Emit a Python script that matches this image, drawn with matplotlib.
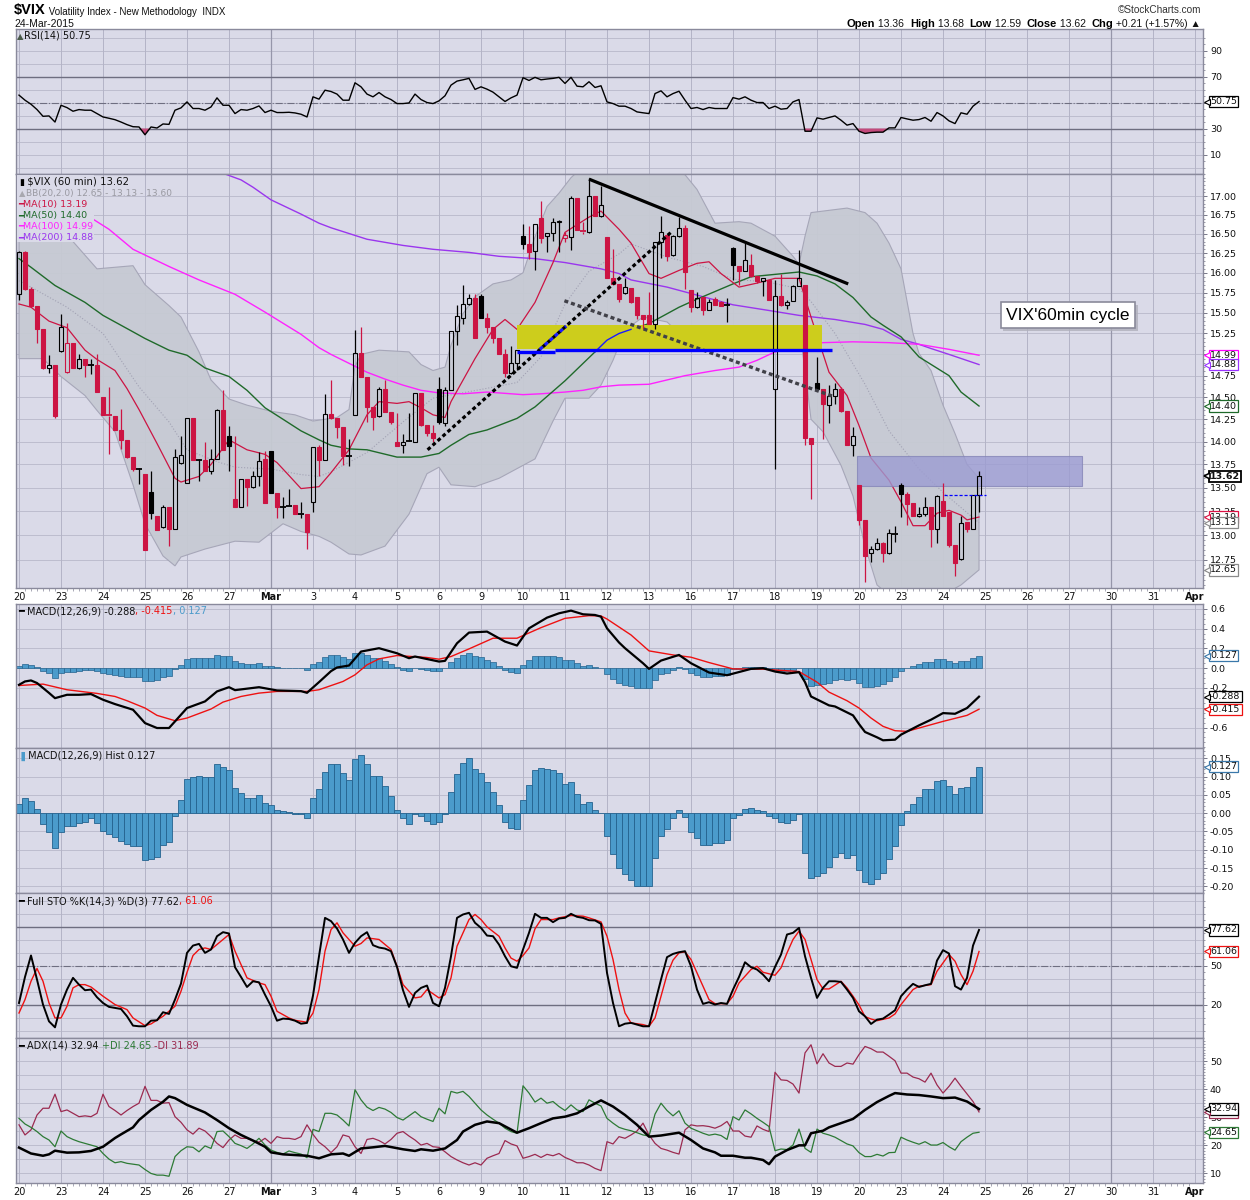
import numpy as np
import matplotlib
matplotlib.use("Agg")
import matplotlib.pyplot as plt
from matplotlib.patches import Rectangle
from matplotlib.ticker import NullLocator, NullFormatter, FixedLocator
import matplotlib.transforms as mtransforms
import matplotlib.patheffects as pe

plt.rcParams['font.family'] = ['DejaVu Sans']

# ---------------- data (60 min bars, Feb 20 - Mar 24 2015) ----------------
day_labels = ['20', '23', '24', '25', '26', '27', 'Mar', '3', '4', '5', '6', '9', '10',
              '11', '12', '13', '16', '17', '18', '19', '20', '23', '24', '25', '26',
              '27', '30', '31', 'Apr']

opens = [15.73, 16.27, 15.80, 15.59, 15.30, 14.84, 14.87, 15.04, 14.79, 15.14,
         14.84, 14.95, 14.87, 14.88, 14.50, 14.30, 14.29, 14.13, 14.02, 13.83,
         13.70, 13.65, 13.45, 13.20, 13.09, 13.30, 13.07, 13.77, 13.55, 14.26,
         13.80, 13.80, 13.68, 13.81, 14.36, 14.06, 13.38, 13.30, 13.59, 13.51,
         13.63, 13.81, 13.90, 13.44, 13.29, 13.30, 13.32, 13.22, 13.22, 13.35,
         13.94, 13.80, 14.31, 14.26, 14.16, 13.84, 14.30, 15.02, 14.74, 14.39,
         14.29, 14.60, 14.33, 14.00, 13.96, 14.00, 14.00, 14.55, 14.19, 14.10,
         14.60, 14.21, 14.58, 15.28, 15.44, 15.61, 15.68, 15.71, 15.44, 15.33,
         15.19, 15.01, 14.78, 14.90, 16.47, 16.37, 16.28, 16.71, 16.47, 16.51,
         16.65, 16.44, 16.46, 16.97, 16.55, 16.53, 17.00, 16.73, 16.46, 15.94,
         15.86, 15.75, 15.81, 15.70, 15.48, 15.48, 15.37, 16.40, 16.48, 16.23,
         16.47, 16.58, 15.78, 15.57, 15.70, 15.53, 15.67, 15.63, 15.60, 16.32,
         16.09, 16.02, 16.10, 15.96, 15.90, 15.91, 14.60, 15.71, 15.60, 15.65,
         15.83, 15.85, 14.04, 14.67, 14.60, 14.41, 14.51, 14.60, 14.34, 13.96,
         13.53, 13.16, 12.82, 12.86, 12.92, 12.82, 13.01, 13.53, 13.43, 13.34,
         13.20, 13.22, 13.30, 13.07, 13.36, 13.24, 12.90, 12.76, 13.14, 13.07,
         13.42]
highs = [16.28, 16.28, 15.82, 15.59, 15.30, 14.99, 14.87, 15.49, 15.38, 15.14,
         15.01, 14.95, 14.94, 15.01, 14.50, 14.62, 14.29, 14.37, 14.02, 13.83,
         13.71, 13.65, 13.68, 13.20, 13.32, 13.30, 13.92, 14.06, 14.26, 14.26,
         13.81, 14.00, 13.92, 14.37, 14.58, 14.17, 14.06, 13.59, 13.59, 13.68,
         13.89, 13.90, 13.90, 13.44, 13.40, 13.49, 13.32, 13.35, 13.22, 13.94,
         13.96, 14.54, 14.70, 14.26, 14.16, 14.03, 15.29, 15.33, 14.74, 14.39,
         14.62, 14.70, 14.33, 14.32, 14.08, 14.32, 14.55, 14.55, 14.19, 14.19,
         14.74, 14.62, 15.28, 15.60, 15.84, 15.74, 15.74, 15.74, 15.50, 15.33,
         15.19, 15.07, 15.10, 15.05, 16.63, 16.60, 16.63, 16.93, 16.51, 16.71,
         16.68, 16.52, 17.00, 16.97, 16.65, 17.24, 17.00, 17.13, 16.46, 16.30,
         15.86, 15.93, 15.81, 15.70, 15.48, 15.76, 16.40, 16.74, 16.48, 16.48,
         16.72, 16.61, 15.78, 15.76, 15.70, 15.67, 15.70, 15.65, 15.69, 16.33,
         16.09, 16.38, 16.24, 15.96, 15.93, 15.91, 15.91, 15.99, 15.66, 15.84,
         16.29, 15.85, 14.04, 14.97, 14.60, 14.64, 14.66, 14.62, 14.34, 14.16,
         13.53, 13.16, 12.89, 12.97, 12.93, 13.07, 13.10, 13.55, 13.45, 13.34,
         13.29, 13.40, 13.30, 13.42, 13.55, 13.24, 12.90, 13.20, 13.14, 13.42,
         13.68]
lows = [15.66, 15.78, 15.57, 15.13, 14.83, 14.78, 14.26, 15.03, 14.78, 14.84,
        14.83, 14.73, 14.77, 14.56, 14.30, 13.86, 14.13, 13.92, 13.82, 13.68,
        13.54, 12.85, 13.17, 13.06, 13.08, 12.89, 13.07, 13.76, 13.55, 13.80,
        13.57, 13.68, 13.65, 13.81, 13.91, 13.68, 13.29, 13.30, 13.31, 13.50,
        13.52, 13.34, 13.44, 13.18, 13.18, 13.30, 13.22, 13.18, 12.86, 13.24,
        13.62, 13.80, 14.25, 14.04, 13.74, 13.73, 14.30, 14.74, 14.22, 14.13,
        14.28, 14.33, 14.20, 13.95, 13.88, 14.00, 14.00, 14.17, 14.06, 14.00,
        14.20, 14.17, 14.58, 15.11, 15.36, 15.60, 15.19, 15.44, 15.25, 15.13,
        15.00, 14.73, 14.77, 14.82, 16.31, 16.18, 16.04, 16.38, 16.26, 16.41,
        16.26, 16.40, 16.29, 16.55, 16.50, 16.51, 16.73, 16.72, 15.94, 15.86,
        15.63, 15.74, 15.62, 15.42, 15.30, 15.37, 15.31, 16.19, 16.15, 16.22,
        16.46, 15.80, 15.51, 15.56, 15.47, 15.53, 15.60, 15.58, 15.39, 15.91,
        15.84, 16.02, 15.95, 15.87, 15.71, 15.66, 13.70, 15.59, 15.55, 15.65,
        15.83, 13.96, 13.38, 14.60, 14.03, 14.21, 14.42, 14.33, 13.96, 13.84,
        13.11, 12.53, 12.73, 12.85, 12.73, 12.81, 12.93, 13.19, 13.11, 13.20,
        13.19, 13.20, 12.88, 12.92, 13.20, 12.88, 12.59, 12.75, 13.03, 13.07,
        13.24]
closes = [16.27, 15.80, 15.59, 15.30, 14.84, 14.87, 14.29, 15.33, 15.14, 14.84,
          14.95, 14.87, 14.88, 14.56, 14.30, 14.29, 14.13, 14.02, 13.83, 13.70,
          13.70, 12.85, 13.23, 13.06, 13.30, 13.07, 13.83, 13.85, 14.26, 13.80,
          13.80, 13.68, 13.81, 14.36, 13.91, 13.95, 13.29, 13.59, 13.51, 13.62,
          13.79, 13.34, 13.44, 13.29, 13.30, 13.32, 13.22, 13.23, 13.03, 13.94,
          13.80, 14.31, 14.26, 14.16, 13.84, 13.85, 15.02, 14.74, 14.39, 14.28,
          14.60, 14.33, 14.22, 13.95, 14.00, 14.01, 14.55, 14.19, 14.10, 14.04,
          14.22, 14.58, 15.28, 15.46, 15.61, 15.68, 15.19, 15.44, 15.33, 15.19,
          15.01, 14.78, 14.90, 15.05, 16.37, 16.26, 16.63, 16.44, 16.51, 16.65,
          16.67, 16.49, 16.97, 16.55, 16.53, 17.00, 16.73, 16.88, 15.94, 15.86,
          15.67, 15.82, 15.64, 15.47, 15.42, 15.37, 16.40, 16.52, 16.21, 16.47,
          16.58, 16.01, 15.57, 15.68, 15.53, 15.64, 15.60, 15.59, 15.60, 16.10,
          16.02, 16.16, 15.96, 15.90, 15.93, 15.66, 15.71, 15.60, 15.64, 15.83,
          15.93, 14.04, 13.97, 14.60, 14.42, 14.51, 14.60, 14.34, 13.96, 14.06,
          13.16, 12.79, 12.86, 12.92, 12.82, 13.02, 13.02, 13.43, 13.33, 13.20,
          13.22, 13.29, 13.07, 13.41, 13.20, 12.90, 12.72, 13.13, 13.07, 13.42,
          13.62]

# Bollinger bands and moving averages, read at selected bars
bb_up_idx = [0, 5, 9, 13, 19, 21, 25, 27, 30, 32, 35, 38, 42, 46, 49, 53, 55, 56, 57, 60,
             65, 67, 69, 71, 72, 74, 76, 79, 82, 84, 86, 88, 90, 92, 94, 102, 108, 111, 113, 116,
             120, 122, 126, 129, 130, 131, 132, 136, 138, 141, 143, 145, 147, 149, 150, 152, 154,
             156, 158, 160]
bb_up = [16.55, 16.45, 16.40, 16.05, 16.09, 15.85, 15.59, 15.45, 15.03, 14.70, 14.48, 14.41,
         14.34, 14.30, 14.23, 14.27, 14.36, 14.86, 15.00, 15.05, 15.03, 14.88, 14.81, 14.85,
         15.11, 15.49, 15.70, 15.86, 15.91, 16.00, 16.46, 16.86, 17.04, 17.25, 17.40, 17.45,
         17.40, 17.29, 17.09, 16.64, 16.66, 16.64, 16.47, 16.21, 16.11, 16.47, 16.78, 16.82,
         16.84, 16.78, 16.64, 16.38, 16.05, 15.25, 15.01, 14.81, 14.41, 14.09, 13.75, 13.60]
bb_lo_idx = [0, 4, 7, 11, 13, 16, 19, 21, 24, 26, 27, 31, 36, 40, 44, 47, 50, 52, 55, 57,
             61, 65, 68, 70, 72, 76, 80, 86, 89, 91, 95, 97, 99, 101, 104, 108, 112, 117, 120, 125,
             130, 131, 132, 134, 137, 139, 141, 143, 146, 150, 154, 157, 160]
bb_lo = [14.95, 14.95, 14.74, 14.52, 14.35, 14.11, 13.53, 13.12, 12.79, 12.69, 12.78, 12.86,
         12.94, 12.93, 13.12, 13.04, 12.99, 12.93, 12.81, 12.80, 12.89, 13.22, 13.65, 13.72,
         13.53, 13.51, 13.60, 13.81, 14.23, 14.49, 14.49, 14.64, 14.93, 15.29, 15.45, 15.39,
         15.12, 15.33, 15.20, 15.29, 15.33, 14.82, 14.25, 14.11, 13.74, 13.41, 12.89, 12.50,
         12.35, 12.30, 12.40, 12.50, 12.65]
bb_mid_idx = [0, 2, 8, 14, 20, 25, 28, 33, 36, 42, 47, 50, 52, 58, 64, 69, 77, 83, 87, 91,
              95, 100, 102, 108, 114, 119, 125, 130, 132, 136, 141, 145, 147, 150, 154, 160]
bb_mid = [15.90, 15.82, 15.57, 15.25, 14.62, 14.22, 13.91, 13.78, 13.72, 13.70, 13.64, 13.62,
          13.67, 13.88, 14.22, 14.49, 14.59, 14.67, 14.97, 15.61, 16.02, 16.24, 16.37, 16.20,
          16.08, 15.92, 15.88, 15.80, 15.64, 15.25, 14.65, 14.12, 13.95, 13.70, 13.45, 13.13]

ma10_idx = [0, 2, 5, 8, 11, 13, 16, 18, 20, 23, 26, 27, 30, 32, 35, 38, 41, 43, 45, 47,
            50, 52, 55, 58, 60, 63, 65, 67, 69, 71, 72, 76, 79, 81, 83, 86, 89, 91, 95, 97,
            100, 102, 105, 107, 110, 113, 115, 117, 120, 123, 126, 130, 132, 135, 138, 140,
            142, 145, 147, 149, 151, 153, 155, 157, 158, 160]
ma10 = [15.61, 15.57, 15.40, 15.32, 15.05, 14.94, 14.81, 14.60, 14.36, 13.98, 13.60, 13.56,
        13.62, 13.75, 14.02, 13.91, 13.86, 13.77, 13.63, 13.49, 13.51, 13.66, 13.91, 14.30,
        14.45, 14.43, 14.45, 14.38, 14.30, 14.27, 14.45, 14.95, 15.30, 15.42, 15.30, 15.63,
        16.13, 16.52, 16.72, 16.80, 16.56, 16.38, 15.99, 15.93, 16.03, 16.12, 16.14, 15.99,
        15.82, 15.87, 15.93, 15.93, 15.45, 14.79, 14.52, 14.18, 13.82, 13.58, 13.35, 13.10,
        13.10, 13.23, 13.26, 13.21, 13.16, 13.19]
ma50_idx = [0, 2, 6, 11, 14, 19, 21, 25, 28, 31, 35, 38, 41, 44, 47, 50, 52, 55, 58, 63,
            67, 70, 72, 75, 78, 83, 86, 91, 96, 98, 100, 102, 105, 110, 113, 119, 122, 126,
            130, 133, 136, 139, 142, 144, 147, 150, 155, 157, 160]
ma50 = [16.18, 16.07, 15.84, 15.63, 15.47, 15.27, 15.19, 15.05, 14.99, 14.84, 14.74, 14.58,
        14.38, 14.25, 14.12, 14.02, 13.96, 13.92, 13.91, 13.83, 13.83, 13.87, 13.96, 14.08,
        14.13, 14.26, 14.39, 14.69, 15.03, 15.17, 15.25, 15.30, 15.37, 15.57, 15.67, 15.86,
        15.95, 15.98, 16.01, 15.96, 15.86, 15.69, 15.45, 15.35, 15.21, 14.97, 14.75, 14.56,
        14.40]
ma100_idx = [0, 6, 12, 15, 19, 25, 30, 36, 41, 47, 50, 52, 56, 58, 61, 64, 67, 70, 74, 78,
             84, 87, 91, 94, 97, 100, 105, 111, 116, 120, 123, 126, 130, 134, 139, 145, 150,
             155, 160]
ma100 = [17.20, 16.95, 16.71, 16.56, 16.30, 16.08, 15.91, 15.73, 15.51, 15.24, 15.08, 15.00,
         14.86, 14.79, 14.71, 14.64, 14.58, 14.55, 14.54, 14.56, 14.53, 14.54, 14.56, 14.58,
         14.62, 14.64, 14.65, 14.75, 14.81, 14.85, 14.93, 15.03, 15.11, 15.14, 15.15, 15.14,
         15.12, 15.06, 14.99]
ma200_idx = [0, 20, 34, 37, 39, 42, 47, 50, 52, 58, 64, 69, 75, 80, 86, 91, 97, 100, 102,
             108, 114, 119, 125, 130, 136, 141, 144, 147, 150, 152, 155, 160]
ma200 = [18.40, 17.80, 17.31, 17.22, 17.12, 16.95, 16.76, 16.64, 16.58, 16.43, 16.35, 16.30,
         16.26, 16.21, 16.18, 16.13, 16.05, 15.99, 15.91, 15.82, 15.70, 15.60, 15.53, 15.47,
         15.42, 15.36, 15.30, 15.18, 15.12, 15.07, 15.00, 14.88]

rsi = [55.7, 51.8, 48.7, 44.6, 39.4, 39.7, 35.0, 47.9, 46.1, 43.3,
       44.6, 44.1, 44.1, 41.5, 38.9, 37.9, 36.8, 35.0, 33.0, 31.4,
       31.2, 25.2, 31.2, 30.4, 33.5, 33.2, 44.1, 45.9, 50.5, 45.4,
       45.4, 44.1, 46.6, 53.6, 47.9, 47.9, 41.5, 44.6, 44.1, 45.4,
       47.4, 42.3, 44.1, 42.3, 42.3, 42.5, 42.0, 41.0, 38.9, 54.4,
       52.6, 59.5, 58.5, 56.5, 51.8, 51.8, 65.2, 62.1, 56.5, 54.4,
       57.7, 54.4, 52.3, 49.2, 49.2, 49.7, 56.5, 52.3, 50.0, 49.2,
       51.3, 55.2, 63.4, 66.5, 67.5, 68.6, 60.1, 62.1, 60.3, 58.0,
       54.4, 50.8, 53.6, 55.7, 69.1, 67.0, 69.4, 67.5, 68.1, 68.6,
       69.4, 64.7, 69.4, 62.6, 62.1, 66.0, 61.6, 62.9, 50.5, 49.2,
       47.2, 47.2, 45.4, 42.8, 42.1, 41.5, 56.9, 59.0, 54.4, 56.9,
       58.7, 51.8, 45.4, 46.2, 44.6, 46.2, 45.4, 45.4, 45.4, 53.8,
       52.6, 54.4, 51.8, 50.0, 50.0, 45.4, 47.2, 44.9, 45.4, 50.5,
       52.3, 27.9, 27.9, 38.2, 37.2, 38.5, 39.7, 36.4, 32.6, 33.8,
       27.9, 26.2, 26.9, 27.2, 27.2, 30.5, 30.5, 38.5, 37.4, 36.4,
       36.9, 38.5, 35.6, 42.3, 39.7, 35.9, 33.8, 42.1, 41.0, 47.2,
       50.75]

macd_idx = [0, 1, 2, 3, 5, 6, 8, 10, 12, 14, 16, 19, 20, 21, 23, 25, 26, 28, 31, 33,
            35, 36, 40, 43, 47, 48, 50, 52, 53, 55, 57, 60, 63, 65, 66, 70, 71, 73, 75, 78,
            81, 83, 85, 88, 90, 92, 94, 96, 97, 98, 100, 101, 104, 105, 107, 110, 112, 115,
            118, 122, 124, 126, 128, 130, 131, 132, 135, 136, 139, 140, 141, 143, 144, 146,
            147, 150, 152, 154, 156, 158, 160]
macd = [-0.168, -0.134, -0.124, -0.150, -0.250, -0.303, -0.269, -0.269, -0.262, -0.319,
        -0.363, -0.420, -0.487, -0.555, -0.605, -0.605, -0.538, -0.403, -0.336, -0.235,
        -0.192, -0.222, -0.192, -0.225, -0.232, -0.249, -0.141, -0.030, 0.007, 0.027,
        0.168, 0.202, 0.151, 0.101, 0.118, 0.067, 0.074, 0.252, 0.360, 0.370,
        0.269, 0.229, 0.403, 0.511, 0.555, 0.582, 0.545, 0.538, 0.521, 0.403,
        0.260, 0.202, 0.050, -0.007, 0.077, 0.134, 0.050, -0.044, -0.071, -0.007,
        0.000, -0.034, -0.054, -0.040, -0.141, -0.286, -0.376, -0.387, -0.477, -0.565,
        -0.645, -0.699, -0.729, -0.723, -0.672, -0.578, -0.521, -0.454, -0.461, -0.403,
        -0.288]
signal_idx = [0, 4, 8, 13, 16, 18, 21, 23, 26, 28, 32, 34, 37, 40, 43, 48, 50, 54, 56, 58,
              60, 63, 68, 70, 72, 75, 79, 83, 87, 91, 95, 97, 98, 102, 105, 109, 112, 115,
              119, 124, 130, 133, 135, 138, 140, 142, 144, 146, 148, 150, 154, 158, 160]
signal = [-0.175, -0.161, -0.218, -0.255, -0.286, -0.329, -0.403, -0.477, -0.531, -0.504,
          -0.413, -0.343, -0.286, -0.252, -0.235, -0.235, -0.218, -0.134, -0.067, 0.034,
          0.094, 0.128, 0.108, 0.091, 0.118, 0.195, 0.303, 0.303, 0.410, 0.504,
          0.531, 0.528, 0.497, 0.336, 0.175, 0.134, 0.111, 0.057, -0.007, -0.010,
          -0.034, -0.141, -0.242, -0.329, -0.403, -0.504, -0.588, -0.632, -0.639, -0.605,
          -0.538, -0.477, -0.415]
hist = [0.025, 0.041, 0.032, 0.011, -0.030, -0.052, -0.096, -0.052, -0.034, -0.035,
        -0.026, -0.023, -0.014, -0.027, -0.050, -0.058, -0.066, -0.076, -0.085, -0.089,
        -0.089, -0.128, -0.125, -0.119, -0.087, -0.078, -0.007, 0.035, 0.093, 0.099,
        0.101, 0.098, 0.099, 0.134, 0.125, 0.119, 0.069, 0.055, 0.041, 0.041,
        0.049, 0.027, 0.023, 0.008, 0.005, 0.002, -0.002, -0.003, -0.014, 0.041,
        0.066, 0.112, 0.134, 0.134, 0.110, 0.090, 0.149, 0.158, 0.134, 0.102,
        0.101, 0.074, 0.047, 0.008, -0.014, -0.030, -0.002, -0.009, -0.020, -0.030,
        -0.025, -0.002, 0.059, 0.107, 0.137, 0.151, 0.122, 0.110, 0.085, 0.058,
        0.023, -0.023, -0.041, -0.044, 0.036, 0.078, 0.119, 0.123, 0.122, 0.119,
        0.110, 0.080, 0.085, 0.052, 0.026, 0.030, 0.008, 0.000, -0.062, -0.112,
        -0.151, -0.166, -0.183, -0.198, -0.198, -0.198, -0.123, -0.061, -0.044, -0.014,
        0.009, -0.011, -0.052, -0.069, -0.087, -0.087, -0.082, -0.082, -0.073, -0.012,
        -0.005, 0.011, 0.014, 0.008, 0.007, -0.009, -0.014, -0.025, -0.027, -0.018,
        -0.002, -0.110, -0.176, -0.172, -0.163, -0.146, -0.119, -0.110, -0.122, -0.114,
        -0.154, -0.189, -0.194, -0.181, -0.163, -0.126, -0.091, -0.032, 0.005, 0.026,
        0.045, 0.067, 0.066, 0.089, 0.090, 0.073, 0.052, 0.069, 0.071, 0.099,
        0.127]

sto_k = [21.5, 41.5, 58.0, 39.5, 20.3, 7.4, 2.8, 20.3, 31.8, 40.8,
         35.6, 31.3, 31.8, 25.9, 21.5, 18.5, 17.7, 16.9, 11.3, 4.1,
         3.6, 3.6, 7.9, 8.2, 14.4, 13.1, 24.1, 36.4, 60.0, 65.6,
         66.9, 60.0, 62.6, 72.8, 75.9, 74.9, 49.0, 41.5, 33.8, 38.2,
         37.4, 27.9, 19.0, 7.9, 9.5, 9.2, 7.9, 5.6, 6.2, 27.2,
         57.4, 86.9, 84.4, 78.7, 70.3, 60.0, 67.7, 72.8, 75.9, 65.9,
         64.1, 63.3, 61.3, 49.2, 31.3, 18.5, 29.2, 33.1, 34.9, 21.5,
         19.0, 33.1, 57.4, 86.9, 89.5, 90.8, 83.1, 79.2, 73.3, 72.8,
         66.4, 57.4, 49.7, 48.5, 62.6, 75.4, 90.0, 86.9, 86.9, 83.6,
         86.4, 86.9, 90.0, 87.7, 86.9, 85.1, 84.9, 82.3, 44.6, 21.5,
         3.6, 5.6, 6.2, 4.9, 3.6, 3.6, 21.5, 39.5, 56.7, 59.2,
         60.5, 61.3, 49.7, 31.8, 20.8, 22.1, 20.3, 21.5, 20.8, 31.8,
         41.5, 52.8, 49.0, 47.2, 43.3, 38.2, 49.2, 58.7, 74.1, 75.4,
         79.2, 57.4, 40.8, 25.4, 33.1, 38.2, 38.2, 37.7, 31.8, 25.4,
         15.1, 11.3, 5.4, 8.7, 9.5, 12.6, 15.9, 26.7, 31.8, 36.2,
         33.8, 35.1, 36.2, 54.1, 62.1, 59.5, 34.4, 31.8, 40.8, 65.6,
         77.62]
sto_d_idx = [0, 1, 2, 3, 4, 5, 6, 7, 8, 9, 10, 11, 12, 14, 16, 18, 19, 21, 22, 24,
             26, 27, 28, 29, 30, 31, 32, 33, 35, 36, 37, 38, 40, 41, 42, 43, 45, 46, 48, 49,
             50, 51, 52, 53, 54, 56, 57, 58, 60, 61, 62, 63, 64, 66, 67, 68, 70, 71, 72, 73,
             75, 76, 77, 78, 80, 81, 82, 83, 84, 85, 86, 87, 89, 90, 92, 94, 95, 97, 98, 99,
             100, 101, 102, 104, 105, 106, 107, 108, 109, 110, 111, 112, 114, 115, 116, 118,
             119, 120, 122, 123, 124, 126, 127, 128, 129, 130, 131, 132, 133, 134, 135, 137,
             138, 139, 140, 141, 142, 143, 145, 146, 147, 149, 150, 152, 153, 154, 155, 156,
             157, 158, 159, 160]
sto_d = [13.8, 24.1, 38.2, 48.0, 38.2, 21.5, 10.0, 10.0, 19.0, 33.1, 35.6, 35.6, 33.8, 26.7,
         20.3, 16.4, 10.0, 4.1, 5.4, 11.3, 19.0, 30.5, 45.0, 58.0, 62.6, 63.8, 62.6, 66.4,
         74.1, 61.3, 51.0, 40.8, 36.9, 35.6, 26.7, 15.1, 10.0, 8.2, 6.7, 13.8, 31.8, 61.3,
         77.9, 83.1, 75.4, 65.1, 67.2, 71.5, 70.3, 66.4, 62.6, 49.7, 35.6, 25.4, 26.2, 31.8,
         25.4, 27.9, 40.8, 65.1, 85.6, 89.5, 85.6, 80.0, 72.8, 63.8, 56.0, 53.6, 58.0, 63.8,
         78.5, 85.6, 85.6, 86.9, 88.7, 88.2, 86.9, 83.8, 72.8, 54.9, 31.8, 13.8, 6.2, 4.9,
         3.6, 10.0, 26.7, 43.3, 54.4, 60.0, 60.8, 54.9, 34.4, 24.1, 21.0, 21.0, 26.7, 36.9,
         47.2, 49.7, 45.1, 42.8, 48.5, 60.0, 70.3, 76.7, 70.3, 54.9, 39.5, 32.3, 32.3, 38.2,
         33.1, 26.7, 20.0, 11.0, 9.2, 7.9, 10.0, 13.1, 20.3, 31.8, 34.4, 35.6, 45.9, 52.3,
         58.7, 53.6, 43.3, 35.6, 45.9, 61.06]

adx_idx = [0, 2, 4, 5, 6, 8, 10, 12, 14, 16, 17, 19, 20, 22, 24, 25, 26, 28, 31, 33,
           35, 37, 39, 41, 42, 44, 48, 50, 52, 54, 55, 57, 59, 61, 64, 66, 67, 69, 71, 73,
           74, 76, 78, 80, 83, 85, 87, 89, 91, 93, 95, 97, 99, 101, 103, 105, 107, 110, 112,
           114, 116, 117, 119, 121, 122, 124, 125, 126, 128, 130, 131, 132, 134, 135, 137,
           139, 141, 143, 145, 146, 148, 150, 152, 154, 156, 158, 160]
adx = [19.2, 17.1, 16.3, 16.8, 18.1, 17.4, 17.5, 18.0, 19.5, 22.6, 23.9, 26.4, 29.0, 32.6,
       35.5, 37.4, 36.8, 34.4, 31.7, 29.0, 26.1, 23.7, 21.7, 19.5, 17.5, 16.8, 16.3, 15.4,
       16.8, 17.1, 16.3, 18.9, 19.3, 19.8, 18.6, 18.0, 18.6, 18.1, 18.9, 21.9, 24.9, 27.3,
       28.5, 27.9, 24.5, 26.1, 27.9, 29.6, 30.2, 31.4, 33.8, 36.0, 33.8, 30.8, 27.3, 23.1,
       23.5, 24.5, 21.9, 18.9, 17.5, 16.3, 16.3, 15.6, 15.6, 14.8, 13.3, 16.0, 18.3, 20.0,
       20.0, 24.3, 25.2, 26.4, 27.9, 29.4, 32.6, 35.4, 37.6, 38.6, 38.1, 37.9, 37.4, 36.8,
       37.0, 35.6, 32.94]
plus_di = [29.6, 27.6, 26.4, 24.9, 23.1, 21.9, 19.5, 25.1, 23.1, 22.1,
           21.3, 20.7, 20.1, 19.5, 17.1, 15.1, 13.8, 14.2, 13.6, 13.3,
           13.0, 11.4, 10.0, 9.4, 9.4, 9.0, 16.0, 18.1, 19.5, 19.3,
           17.7, 19.8, 18.9, 24.9, 25.1, 23.1, 20.7, 19.9, 18.9, 20.5,
           22.5, 20.1, 18.3, 17.5, 16.9, 18.0, 17.4, 16.9, 15.6, 25.7,
           24.9, 31.4, 31.4, 30.8, 29.0, 26.9, 39.8, 36.2, 33.6, 32.4,
           33.5, 32.9, 31.7, 29.9, 29.0, 30.5, 32.0, 30.2, 29.3, 28.5,
           33.2, 31.2, 39.2, 38.6, 39.2, 37.4, 35.0, 32.6, 30.8, 29.3,
           27.9, 26.1, 24.9, 24.3, 41.2, 38.6, 35.4, 36.8, 35.0, 35.6,
           33.8, 32.4, 34.4, 32.6, 32.0, 36.2, 35.0, 34.0, 29.6, 27.9,
           26.4, 25.7, 25.2, 24.5, 23.7, 23.3, 31.1, 35.0, 32.4, 30.5,
           32.3, 27.9, 26.1, 25.2, 24.3, 23.6, 24.0, 23.5, 22.1, 30.2,
           29.0, 32.6, 31.2, 29.6, 28.2, 26.7, 18.1, 18.7, 18.5, 20.1,
           25.8, 18.9, 17.5, 25.8, 24.3, 23.7, 22.9, 21.7, 20.5, 19.8,
           17.4, 16.0, 16.0, 16.8, 16.2, 17.4, 17.5, 22.9, 21.9, 21.1,
           20.4, 21.3, 20.1, 20.1, 21.0, 19.5, 18.3, 21.3, 22.9, 24.3,
           24.65]
minus_di = [27.3, 23.7, 25.5, 30.8, 33.2, 33.2, 38.2, 32.0, 32.6, 31.4,
            30.2, 30.5, 30.2, 31.4, 38.2, 33.8, 32.4, 30.8, 32.4, 33.8,
            35.0, 41.0, 36.0, 36.0, 35.0, 35.2, 30.2, 28.2, 25.5, 24.0,
            26.1, 25.1, 23.1, 20.7, 19.2, 21.9, 23.7, 22.5, 22.5, 21.7,
            21.1, 22.5, 20.7, 23.1, 22.5, 22.5, 22.1, 23.1, 27.3, 23.9,
            21.1, 19.5, 17.4, 19.5, 23.7, 23.1, 19.5, 17.1, 22.1, 22.5,
            21.7, 20.5, 22.1, 24.3, 24.9, 23.3, 21.9, 20.1, 20.7, 19.5,
            19.3, 17.7, 16.0, 14.8, 13.8, 13.0, 13.8, 13.0, 15.4, 16.3,
            17.1, 21.7, 20.5, 19.8, 15.4, 16.0, 16.8, 15.7, 16.8, 16.3,
            17.1, 15.7, 14.8, 13.8, 13.8, 13.0, 11.8, 11.0, 21.3, 20.5,
            23.1, 22.5, 23.7, 25.1, 27.9, 23.7, 20.7, 18.9, 18.3, 17.5,
            16.9, 25.5, 27.3, 26.9, 27.0, 26.7, 26.1, 27.0, 28.5, 25.1,
            25.1, 23.3, 22.9, 26.9, 25.7, 24.9, 46.0, 43.3, 43.1, 41.8,
            38.6, 52.9, 55.8, 49.0, 52.6, 49.3, 48.1, 48.1, 49.3, 48.9,
            52.3, 55.2, 54.4, 53.2, 53.2, 51.7, 50.1, 45.7, 45.7, 44.3,
            43.7, 42.5, 45.7, 41.5, 38.6, 41.0, 43.9, 41.0, 38.3, 35.6,
            31.89]

# drawn annotations (bar index, price)
trend_down = [(95.0, 17.23), (138.2, 15.86)]
trend_up_dotted = [(68.1, 13.91), (108.8, 16.53)]
trend_up_in_zone = [(86.8, 15.06), (91.2, 15.34)]
trend_down_dotted = [(90.9, 15.65), (135.7, 14.51)]
yellow_zone = (83.0, 133.9, 15.07, 15.35)
blue_level = [(83.0, 89.3, 15.03), (89.3, 135.5, 15.05)]
purple_zone = (139.6, 177.2, 13.52, 13.84)
blue_dash_level = (154.2, 161.2, 13.42)

# ---------------- style ----------------
W, H = 1250, 1200
BG = '#dadae8'
GRID = '#bdbdce'
VLINE = '#b3b3c6'
SPINE = '#8a8a9c'
RED = '#cc1443'
BAR_FC = '#4b9bcb'
BAR_EC = '#24628e'
NARROW = ['Liberation Sans Narrow', 'Liberation Sans', 'DejaVu Sans']
XMAX = 197.33

n = len(closes)
x = np.arange(n)
day_pos = [i * 7 for i in range(len(day_labels))]

fig = plt.figure(figsize=(W / 100, H / 100), dpi=100)
fig.patch.set_facecolor('white')


def panel(top, bottom):
    return fig.add_axes([16 / W, 1 - bottom / H, (1203 - 16) / W, (bottom - top) / H])


def base(ax, ylim, ticks, labels, grid, minor=None, log=False):
    ax.set_facecolor(BG)
    if log:
        ax.set_yscale('log')
    ax.set_xlim(-0.5, XMAX)
    ax.set_ylim(*ylim)
    for s in ax.spines.values():
        s.set_color(SPINE)
        s.set_linewidth(1.0)
    ax.yaxis.tick_right()
    ax.set_yticks(ticks)
    ax.set_yticklabels(labels)
    if minor is not None:
        ax.yaxis.set_minor_locator(FixedLocator(minor))
    else:
        ax.yaxis.set_minor_locator(NullLocator())
    ax.yaxis.set_minor_formatter(NullFormatter())
    ax.tick_params(axis='y', length=3, width=0.7, color='#777788', labelcolor='#111111',
                   labelsize=6.8, pad=2)
    ax.tick_params(axis='y', which='minor', length=1.5, width=0.6, color='#8a8a9a')
    ax.set_xticks([])
    for g in grid:
        ax.axhline(g, color=GRID, lw=0.7, zorder=0.6)
    for lab, p in zip(day_labels, day_pos):
        dark = lab in ('Mar', '30')
        ax.axvline(p, color='#9696aa' if dark else VLINE, lw=0.9 if dark else 0.7, zorder=0.6)


def dates(ax):
    ax.set_xticks(day_pos)
    ax.set_xticklabels(day_labels)
    ax.tick_params(axis='x', length=0, labelsize=7, pad=3, labelcolor='#111111')
    for t in ax.get_xticklabels():
        if t.get_text() in ('Mar', 'Apr'):
            t.set_fontweight('bold')
    ax.set_xticks(np.arange(0, 197), minor=True)
    ax.tick_params(axis='x', which='minor', length=2, width=0.6, color='#9a9aaa')


def tag(ax, val, text, ec, bold=False, lw=0.9):
    ax.annotate(text, xy=(1, val), xycoords=('axes fraction', 'data'), xytext=(7, 0),
                textcoords='offset pixels', ha='left', va='center', fontsize=6.8,
                fontweight='bold' if bold else 'normal', color='#111111',
                bbox=dict(boxstyle='square,pad=0.12', fc='white', ec=ec, lw=lw),
                annotation_clip=False, zorder=20)
    tr = mtransforms.blended_transform_factory(ax.transAxes, ax.transData)
    tr = mtransforms.offset_copy(tr, fig=fig, x=4, y=0, units='dots')
    ax.plot([1.0], [val], marker='<', ms=4.2, mfc='white', mec=ec, mew=lw * 0.9,
            transform=tr, clip_on=False, zorder=21)


# ---------------- RSI ----------------
ax_rsi = panel(29, 174)
# the 50 label sits fully under the 50.75 value tag, as in the source chart
base(ax_rsi, (-5, 106.6), [10, 30, 50, 70, 90], ['10', '30', '', '70', '90'],
     range(0, 101, 10), minor=range(0, 101, 5))
ax_rsi.axhline(70, color='#6e6e80', lw=1.0, zorder=1)
ax_rsi.axhline(30, color='#6e6e80', lw=1.0, zorder=1)
ax_rsi.axhline(50, color='#6e6e80', lw=0.8, ls='-.', zorder=1)
rsi_a = np.array(rsi)
ax_rsi.fill_between(x, rsi_a, 30, where=rsi_a < 30, interpolate=True, color='#c34a7c', lw=0, zorder=2)
ax_rsi.plot(x, rsi_a, color='black', lw=1.0, zorder=3)
tag(ax_rsi, 50.75, '50.75', 'black')

# ---------------- price ----------------
ax_p = panel(174, 588)
price_ticks = [12.75 + 0.25 * i for i in range(18)]
base(ax_p, (12.47, 17.30), price_ticks, ['%.2f' % t for t in price_ticks], price_ticks,
     minor=[12.5 + 0.05 * i for i in range(97)], log=True)
dates(ax_p)

poly_x = list(bb_up_idx) + list(bb_lo_idx[::-1])
poly_y = list(bb_up) + list(bb_lo[::-1])
ax_p.fill(poly_x, poly_y, facecolor='#c6cad3', edgecolor='#a4a4b6', lw=0.8, alpha=0.95, zorder=1)
ax_p.plot(bb_mid_idx, bb_mid, color='#a2a2b4', lw=0.8, ls=':', zorder=1.5)
ax_p.plot(ma200_idx, ma200, color='#9a36ee', lw=1.0, zorder=2)
ax_p.plot(ma100_idx, ma100, color='#ff22ff', lw=1.0, zorder=2)
ax_p.plot(ma50_idx, ma50, color='#1f6a2a', lw=1.0, zorder=2)
ax_p.plot(ma10_idx, ma10, color='#cc1443', lw=0.9, zorder=2)

y0, y1, ya, yb = yellow_zone
ax_p.fill_between([y0, y1], ya, yb, color='#cdcd1c', lw=0, zorder=2.5)
m50x = [i for i in ma50_idx if 96 <= i <= 102]
m50y = [v for i, v in zip(ma50_idx, ma50) if 96 <= i <= 102]
ax_p.plot(m50x, m50y, color='#1a1aff', lw=1.0, zorder=2.6)

px0, px1, pa, pb = purple_zone
ax_p.fill_between([px0, px1], pa, pb, facecolor='#9c9cd2', edgecolor='#8585b8', lw=0.8,
                  alpha=0.8, zorder=3)

# candles
o = np.array(opens); h = np.array(highs); l = np.array(lows); c = np.array(closes)
prev = np.r_[c[0], c[:-1]]
for i in range(n):
    col = RED if c[i] < prev[i] else 'black'
    lo_b, hi_b = min(o[i], c[i]), max(o[i], c[i])
    if l[i] < lo_b:
        ax_p.vlines(i, l[i], lo_b, color=col, lw=0.9, zorder=4)
    if h[i] > hi_b:
        ax_p.vlines(i, hi_b, h[i], color=col, lw=0.9, zorder=4)
    if hi_b - lo_b < 0.02:
        ax_p.hlines((hi_b + lo_b) / 2, i - 0.42, i + 0.42, color=col, lw=1.3, zorder=4)
    else:
        filled = c[i] < o[i]
        ax_p.add_patch(Rectangle((i - 0.38, lo_b), 0.76, hi_b - lo_b,
                                 facecolor=col if filled else 'none', edgecolor=col,
                                 lw=0.8, zorder=4))

# trend lines and levels
ax_p.plot(*zip(*trend_down), color='black', lw=2.3, zorder=5, solid_capstyle='butt')
ax_p.plot(*zip(*trend_up_dotted), color='black', lw=2.3, ls=(0, (1.2, 0.9)), zorder=5)
ax_p.plot(*zip(*trend_up_in_zone), color='#1a1aff', lw=2.3, ls=(0, (1.2, 0.9)), zorder=5.1)
ax_p.plot(*zip(*trend_down_dotted), color='#404048', lw=2.4, ls=(0, (1.2, 0.9)), zorder=5)
for a, b, v in blue_level:
    ax_p.plot([a, b], [v, v], color='#0000ff', lw=2.4, zorder=5.2, solid_capstyle='butt')
bd0, bd1, bdv = blue_dash_level
ax_p.plot([bd0, bd1], [bdv, bdv], color='#0000ff', lw=0.9, ls=(0, (2.5, 1.5)), zorder=5)

note = ax_p.text(174.8, 15.47, "VIX'60min cycle", ha='center', va='center', fontsize=12.5,
                 family=['Liberation Sans', 'DejaVu Sans'], color='black', zorder=6,
                 bbox=dict(boxstyle='square,pad=0.32', fc='white', ec='#8a8a9a', lw=1.2))
note.get_bbox_patch().set_path_effects([pe.SimplePatchShadow(offset=(2, -2), shadow_rgbFace='#b0b0bb', alpha=0.8), pe.Normal()])

tag(ax_p, 14.99, '14.99', '#ff00ff')
tag(ax_p, 14.88, '14.88', '#9933ff')
tag(ax_p, 14.40, '14.40', '#1f6a2a')
tag(ax_p, 13.19, '13.19', '#dd1144')
tag(ax_p, 13.13, '13.13', '#8a8a8a')
tag(ax_p, 12.65, '12.65', '#8a8a8a')
tag(ax_p, 13.62, '13.62', 'black', bold=True, lw=1.3)

# ---------------- MACD ----------------
ax_m = panel(604, 748)
mt = [-0.6, -0.4, -0.2, 0.0, 0.2, 0.4, 0.6]
base(ax_m, (-0.807, 0.649), mt, ['-0.6', '-0.4', '-0.2', '0.0', '0.2', '0.4', '0.6'], mt,
     minor=[-0.8 + 0.05 * i for i in range(30)])
ax_m.bar(x, hist, width=0.85, color=BAR_FC, edgecolor=BAR_EC, lw=0.5, zorder=2)
ax_m.plot(signal_idx, signal, color='#ee1111', lw=1.0, zorder=3)
ax_m.plot(macd_idx, macd, color='black', lw=1.6, zorder=4)
tag(ax_m, 0.127, '0.127', '#3a78aa')
tag(ax_m, -0.288, '-0.288', 'black')
tag(ax_m, -0.415, '-0.415', '#ee1111')

# ---------------- MACD histogram ----------------
ax_h = panel(748, 893)
ht = [-0.20, -0.15, -0.10, -0.05, 0.0, 0.05, 0.10, 0.15]
base(ax_h, (-0.218, 0.178), ht, ['-0.20', '-0.15', '-0.10', '-0.05', '0.00', '0.05', '0.10', '0.15'], ht,
     minor=[-0.21 + 0.01 * i for i in range(39)])
ax_h.bar(x, hist, width=0.85, color=BAR_FC, edgecolor=BAR_EC, lw=0.6, zorder=2)
tag(ax_h, 0.127, '0.127', '#3a78aa')

# ---------------- Full STO ----------------
ax_s = panel(893, 1038)
# the 80 label is hidden under the 77.62 value tag in the source chart
base(ax_s, (-5.4, 106), [20, 50, 80], ['20', '50', ''], range(0, 101, 10),
     minor=range(0, 101, 5))
ax_s.axhline(80, color='#6e6e80', lw=1.0, zorder=1)
ax_s.axhline(20, color='#6e6e80', lw=1.0, zorder=1)
ax_s.axhline(50, color='#6e6e80', lw=0.8, ls='-.', zorder=1)
ax_s.plot(sto_d_idx, sto_d, color='#ee1111', lw=1.0, zorder=3)
ax_s.plot(x, sto_k, color='black', lw=1.4, zorder=4)
tag(ax_s, 77.62, '77.62', 'black')
tag(ax_s, 61.06, '61.06', '#ee1111')

# ---------------- ADX ----------------
ax_a = panel(1038, 1183)
base(ax_a, (6.6, 58.2), [10, 20, 30, 40, 50], ['10', '20', '30', '40', '50'], range(10, 56, 5),
     minor=range(7, 58, 1))
dates(ax_a)
ax_a.plot(x, minus_di, color='#9b2a50', lw=0.9, zorder=3)
ax_a.plot(x, plus_di, color='#2d7a35', lw=0.9, zorder=3)
ax_a.plot(adx_idx, adx, color='black', lw=1.8, zorder=4)
tag(ax_a, 31.89, '31.89', '#9b2a50')
tag(ax_a, 32.94, '32.94', 'black')
tag(ax_a, 24.65, '24.65', '#2d7a35')

# ---------------- text overlay (pixel coordinates) ----------------
top = fig.add_axes([0, 0, 1, 1], zorder=50)
top.set_xlim(0, W)
top.set_ylim(H, 0)
top.axis('off')
top.patch.set_visible(False)


def chain(x0, y0, pieces, right=False):
    prev_t = None
    seq = pieces[::-1] if right else pieces
    for s, colr, size, wt, fam in seq:
        kw = dict(fontsize=size, color=colr, fontweight=wt, family=fam, va='bottom', zorder=60)
        if prev_t is None:
            prev_t = top.text(x0, y0, s, ha='right' if right else 'left', **kw)
        else:
            prev_t = top.annotate(s, xy=(0, 0) if right else (1, 0), xycoords=prev_t,
                                  ha='right' if right else 'left', **kw)
    return prev_t


DV = ['DejaVu Sans']
# header
chain(14, 17, [('$VIX', 'black', 10.5, 'bold', NARROW),
               (' Volatility Index - New Methodology  INDX', '#111111', 7, 'normal', NARROW)])
top.text(14, 29, '24-Mar-2015', fontsize=7.5, family=NARROW, color='#111111', va='bottom')
top.text(1201, 15, '\u00a9StockCharts.com', fontsize=7.2, family=NARROW, color='#333333',
         ha='right', va='bottom')
chain(1201, 29, [('Open', 'black', 8, 'bold', NARROW), (' 13.36  ', '#111111', 7.5, 'normal', NARROW),
                 ('High', 'black', 8, 'bold', NARROW), (' 13.68  ', '#111111', 7.5, 'normal', NARROW),
                 ('Low', 'black', 8, 'bold', NARROW), (' 12.59  ', '#111111', 7.5, 'normal', NARROW),
                 ('Close', 'black', 8, 'bold', NARROW), (' 13.62  ', '#111111', 7.5, 'normal', NARROW),
                 ('Chg', 'black', 8, 'bold', NARROW), (' +0.21 (+1.57%) \u25b2', '#111111', 7.5, 'normal', NARROW)],
      right=True)

# RSI legend
chain(17, 41, [('\u25b2', '#4a5a4a', 6, 'normal', DV), ('RSI(14) 50.75', '#111111', 7, 'normal', DV)])

# price legend
top.add_patch(Rectangle((17, 175), 77, 67, facecolor=BG, edgecolor='none', zorder=55))
chain(19, 187, [('\u25ae', 'black', 6.5, 'normal', DV), (' $VIX (60 min) 13.62', '#111111', 7.3, 'normal', DV)])
chain(19, 198, [('\u25b2', '#a8a8b0', 6, 'normal', DV),
                ('BB(20,2.0) 12.65 - 13.13 - 13.60', '#9a9aa2', 6.5, 'normal', DV)])
for yy, lab, colr in [(209, 'MA(10) 13.19', '#cc1443'), (220, 'MA(50) 14.40', '#1f6a2a'),
                      (231, 'MA(100) 14.99', '#ff22ff'), (242, 'MA(200) 14.88', '#9a36ee')]:
    chain(18, yy, [('\u2501', colr, 6.5, 'normal', DV), (lab, colr, 6.8, 'normal', DV)])

# MACD legends
chain(18, 616, [('\u2501 ', 'black', 7, 'normal', DV), ('MACD(12,26,9) -0.288', '#111111', 7, 'normal', DV),
                (', -0.415', '#ee1111', 7, 'normal', DV), (', 0.127', '#4b9bcb', 7, 'normal', DV)])
chain(18, 761, [('\u2590', BAR_FC, 6.5, 'normal', DV), (' MACD(12,26,9) Hist 0.127', '#111111', 7, 'normal', DV)])
chain(18, 906, [('\u2501 ', 'black', 7, 'normal', DV), ('Full STO %K(14,3) %D(3) 77.62', '#111111', 7, 'normal', DV),
                (', 61.06', '#ee1111', 7, 'normal', DV)])
chain(18, 1051, [('\u2501 ', 'black', 7, 'normal', DV), ('ADX(14) 32.94 ', '#111111', 7, 'normal', DV),
                 ('+DI 24.65 ', '#2d7a35', 7, 'normal', DV), ('-DI 31.89', '#9b2a50', 7, 'normal', DV)])

fig.savefig('out.png', dpi=100, facecolor='white')
